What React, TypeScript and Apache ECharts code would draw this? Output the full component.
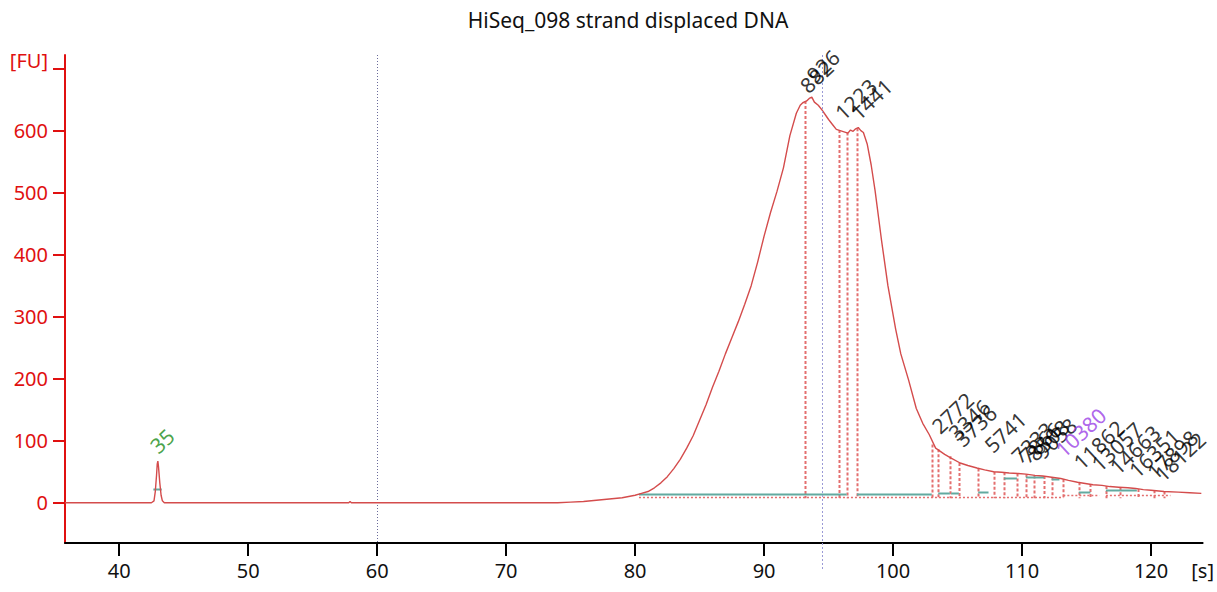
import React, { useEffect, useRef } from "react";
import * as echarts from "echarts";

const chartTitle = "HiSeq_098 strand displaced DNA";

// electropherogram trace: time [s] and fluorescence [FU]
const times = [
  35.8, 42.5, 42.7, 42.8, 42.9, 42.95, 43.0, 43.05, 43.15, 43.25, 43.35, 43.5,
  57.8, 57.9, 58.0, 74.0, 75.0, 76.0, 77.0, 78.0, 79.0, 80.0, 80.5, 81.0, 81.5,
  82.0, 82.5, 83.0, 83.5, 84.0, 84.5, 85.0, 85.5, 86.0, 86.5, 87.0, 87.5, 88.0,
  88.5, 89.0, 89.5, 90.0, 90.5, 91.0, 91.5, 92.0, 92.5, 92.8, 93.0, 93.3, 93.5,
  93.7, 93.9, 94.2, 94.5, 94.8, 95.0, 95.3, 95.6, 95.9, 96.2, 96.5, 96.7, 96.9,
  97.1, 97.3, 97.5, 97.7, 98.0, 98.3, 98.6, 99.1, 99.6, 100.2, 100.6, 101.2,
  101.8, 102.3, 102.8, 103.3, 104.0, 104.5, 105.2, 105.8, 106.5, 107.1, 107.8,
  108.4, 109.0, 109.7, 110.3, 111.0, 111.6, 112.3, 113.0, 113.6, 114.3, 114.9,
  115.5, 116.2, 116.8, 117.5, 118.2, 118.8, 119.4, 120.0, 121.0, 122.1, 123.0,
  123.9,
];
const fu = [
  0, 0, 3, 18, 45, 62, 67, 58, 32, 12, 3, 0,
  0, 2, 0, 0, 1, 2, 4, 6, 8, 12, 15, 18, 24,
  32, 42, 55, 70, 88, 108, 133, 158, 186, 212, 240, 266, 292,
  320, 350, 388, 430, 468, 502, 540, 592, 628, 641, 645, 648, 652,
  654, 646, 641, 633, 624, 618, 610, 602, 600, 598, 596, 601, 599,
  603, 605, 600, 597, 578, 545, 504, 424, 350, 280, 240, 198,
  152, 128, 110, 88, 78, 72, 64, 60, 56, 53, 50,
  49, 48, 47, 46, 44, 43, 41, 39, 36, 33, 31,
  29, 28, 26, 25, 24, 23, 21, 20, 18, 17, 16,
  15,
];

const xTicks = [40, 50, 60, 70, 80, 90, 100, 110, 120];
const xUnitLabel = "[s]";
const xUnitAt = 124;
const yTicks = [0, 100, 200, 300, 400, 500, 600, 700];
const yLabels = [0, 100, 200, 300, 400, 500, 600];
const yUnitLabel = "[FU]";
const yUnitAt = 713;

// peak labels (size in bp) and where they are written
const markerNames = ["35"];
const markerTimes = [43.2];
const markerLevels = [74];

const peakNames = [
  "882", "926", "1223", "1441", "2772", "3346", "3736", "5741", "7333", "7866",
  "8508", "9058", "10380", "11862", "13057", "14663", "16351", "17898", "18122",
];
const peakNameTimes = [
  93.6, 94.1, 96.3, 97.5, 103.8, 105.1, 105.6, 107.9, 110.0, 110.6,
  111.2, 111.8, 113.4, 114.8, 116.2, 117.6, 119.1, 120.5, 121.1,
];
const peakNameLevels = [
  655, 672, 612, 612, 106, 95, 85, 75, 58, 58,
  62, 65, 68, 48, 45, 40, 35, 32, 29,
];
const selectedPeak = "10380";

// dashed drop lines from the peaks to the baseline
const dropTimes = [
  93.2, 95.8, 96.45, 97.2, 103.0, 103.5, 104.4, 105.1, 106.6, 107.8, 108.6,
  109.6, 110.3, 110.9, 111.7, 112.3, 113.2, 114.4, 115.3, 116.5, 117.6, 119.0,
  120.2, 121.0,
];
const dropTops = [
  648, 601, 597, 604, 94, 86, 75, 64, 55, 50, 49,
  47, 46, 44, 43, 41, 38, 33, 30, 27, 25, 22,
  20, 18,
];
const dropBase = 7;

// peak baselines (teal) and integration baselines (red dotted)
const tealStarts = [42.65, 80.3, 97.2, 103.5, 104.5, 106.6, 108.6, 110.3, 112.3, 114.4, 116.5, 117.6];
const tealEnds = [43.3, 96.4, 103.0, 104.4, 105.1, 107.4, 109.6, 111.7, 112.9, 115.3, 117.6, 118.9];
const tealLevels = [22, 14, 14, 16, 16, 18, 40, 42, 38, 18, 20, 20];
const dotStarts = [80.3, 113.2, 116.5];
const dotEnds = [113.2, 116.0, 121.5];
const dotLevels = [9, 12, 13];

const inspectLineAt = 60.0;
const markerLineAt = 94.5;

const FONT = "Noto Sans";

const segStyles = [
  { stroke: "#e46f6f", lineWidth: 2, lineDash: [3, 2] }, // drop lines
  { stroke: "#62aaa0", lineWidth: 2 }, // peak baselines
  { stroke: "#e46f6f", lineWidth: 1.5, lineDash: [2, 2] }, // dotted baseline
  { stroke: "#6a6a9a", lineWidth: 1, lineDash: [1, 2] }, // inspection line
];

export default function App() {
  const ref = useRef<HTMLDivElement>(null);

  useEffect(() => {
    if (!ref.current) return;
    const chart = echarts.init(ref.current, undefined, { renderer: "svg" });

    const yMin = -65;
    const yMax = 722;

    const segs: number[][] = [];
    dropTimes.forEach((t, i) => segs.push([t, dropTops[i], t, dropBase, 0]));
    tealStarts.forEach((s, i) => segs.push([s, tealLevels[i], tealEnds[i], tealLevels[i], 1]));
    dotStarts.forEach((s, i) => segs.push([s, dotLevels[i], dotEnds[i], dotLevels[i], 2]));
    segs.push([inspectLineAt, yMax, inspectLineAt, yMin, 3]);

    const labelData: any[] = [];
    markerNames.forEach((n, i) => {
      labelData.push({ name: n, value: [markerTimes[i], markerLevels[i]], label: { color: "#1a8c1a" } });
    });
    peakNames.forEach((n, i) => {
      labelData.push({
        name: n,
        value: [peakNameTimes[i], peakNameLevels[i]],
        label: { color: n === selectedPeak ? "#9a40e6" : "#000000" },
      });
    });

    const snap = (v: number) => Math.round(v) + 0.5;

    chart.setOption({
      animation: false,
      grid: { left: 65, right: 13, top: 55, bottom: 49, containLabel: false },
      xAxis: {
        type: "value",
        min: 35.8,
        max: 124,
        axisLine: { onZero: false, lineStyle: { color: "#000", width: 2 } },
        axisTick: { customValues: xTicks, length: 13, lineStyle: { color: "#000", width: 2 } },
        axisLabel: {
          customValues: [...xTicks, xUnitAt],
          formatter: (v: number) => (v === xUnitAt ? xUnitLabel : String(v)),
          color: "#111",
          fontSize: 20,
          fontFamily: FONT,
          margin: 17,
        },
        splitLine: { show: false },
      },
      yAxis: {
        type: "value",
        min: yMin,
        max: yMax,
        axisLine: { show: true, lineStyle: { color: "#e01010", width: 2 } },
        axisTick: { show: true, customValues: yTicks, length: 12, lineStyle: { color: "#e01010", width: 2 } },
        axisLabel: {
          customValues: [...yLabels, yUnitAt],
          formatter: (v: number) => (v === yUnitAt ? yUnitLabel : String(v)),
          color: "#e01010",
          fontSize: 20,
          fontFamily: FONT,
          margin: 17,
        },
        splitLine: { show: false },
      },
      series: [
        {
          type: "custom",
          data: segs,
          encode: { x: [0, 2], y: [1, 3] },
          silent: true,
          clip: false,
          z: 2,
          renderItem: (_params: any, api: any) => {
            const p1 = api.coord([api.value(0), api.value(1)]);
            const p2 = api.coord([api.value(2), api.value(3)]);
            const k = api.value(4);
            const vertical = api.value(0) === api.value(2);
            return {
              type: "line",
              shape: {
                x1: vertical ? snap(p1[0]) : p1[0],
                y1: vertical ? p1[1] : snap(p1[1]),
                x2: vertical ? snap(p2[0]) : p2[0],
                y2: vertical ? p2[1] : snap(p2[1]),
              },
              style: { ...segStyles[k], fill: null },
            };
          },
        },
        {
          type: "line",
          data: times.map((t, i) => [t, fu[i]]),
          showSymbol: false,
          symbol: "none",
          lineStyle: { color: "#d44c4c", width: 1.4 },
          z: 3,
        },
        {
          type: "scatter",
          data: labelData,
          symbolSize: 1,
          itemStyle: { color: "rgba(0,0,0,0)" },
          label: {
            show: true,
            formatter: "{b}",
            position: "inside",
            align: "left",
            verticalAlign: "bottom",
            rotate: 43,
            fontSize: 21,
            fontFamily: FONT,
          },
          z: 5,
        },
      ],
    });

    const top = chart.convertToPixel({ gridIndex: 0 }, [markerLineAt, yMax]) as number[];
    const bottom = chart.convertToPixel({ gridIndex: 0 }, [markerLineAt, yMin - 42]) as number[];
    chart.setOption({
      graphic: [
        {
          type: "text",
          x: 628,
          y: 20,
          style: {
            text: chartTitle,
            align: "center",
            verticalAlign: "middle",
            fontSize: 21,
            fontFamily: FONT,
            fill: "#111",
          },
        },
        {
          type: "line",
          shape: { x1: snap(top[0]), y1: top[1], x2: snap(bottom[0]), y2: bottom[1] },
          style: { stroke: "#9a9ad6", lineWidth: 1, lineDash: [2, 2] },
          z: 4,
        },
      ],
    });

    return () => chart.dispose();
  }, []);

  return (
    <div
      ref={ref}
      style={{ position: "fixed", left: 0, top: 0, width: 1217, height: 592, background: "#fff" }}
    />
  );
}
